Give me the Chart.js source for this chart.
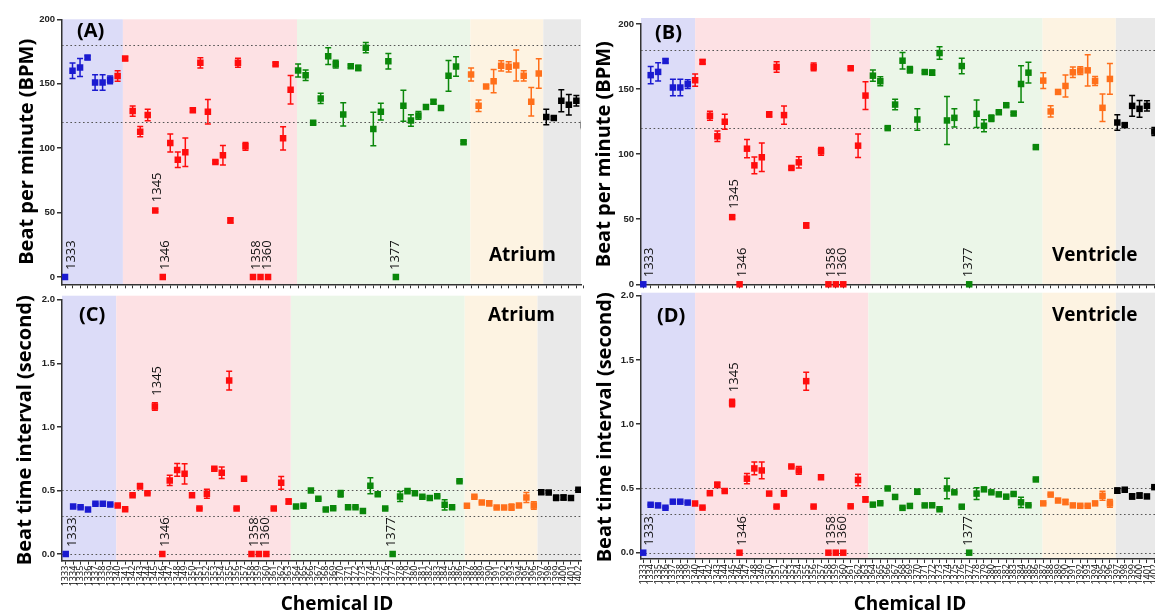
<!DOCTYPE html>
<html>
<head>
<meta charset="utf-8">
<script src="https://cdn.jsdelivr.net/npm/chart.js@4.4.1/dist/chart.umd.min.js"></script>
<style>
html,body{margin:0;padding:0;background:#fff;width:1155px;height:615px;overflow:hidden;position:relative;}
canvas{position:absolute;}
</style>
</head>
<body>
<canvas id="cA"></canvas>
<canvas id="cB"></canvas>
<canvas id="cC"></canvas>
<canvas id="cD"></canvas>
<script>
// ---------------- DATA ----------------
const chemicalIds = [1333,1334,1335,1336,1337,1338,1339,1340,1341,1342,1343,1344,1345,1346,1347,1348,1349,1350,
  1351,1352,1353,1354,1355,1356,1357,1358,1359,1360,1361,1362,1363,1364,1365,1366,1367,1368,1369,1370,
  1371,1372,1373,1374,1375,1376,1377,1378,1379,1380,1381,1382,1383,1384,1385,1386,1387,1388,1389,1390,
  1391,1392,1393,1394,1395,1396,1397,1398,1399,1400,1401,1402];
const groupFirstIds = [1333, 1340, 1364, 1387, 1397];

const atriumBpm = [0,160,162.6,170.3,151,151,153,
  156,169.5,128.8,112.8,125.7,51.6,0,104,91,96.8,129.5,166.2,128.3,89.3,94.5,43.9,166.2,101.4,0,0,0,165.2,107.6,145.3,
  160.3,156.6,119.7,138.6,171.4,165.2,126.2,163.6,162.3,178,114.8,128.3,167.5,0,132.9,121.5,125.4,131.9,136,131.1,156.1,163.4,104.5,
  157.2,132.9,147.9,152,163.9,163.1,164.1,156.1,136,157.9,
  124.1,123.4,136.8,133.7,136.8,118];
const atriumBpmErr = [0,6,7,1.5,6,6,3,
  4,1.5,4,4,4.5,1,0,7,6,11,1.5,4,9.5,1,7.5,2,3.5,3,0,0,0,1,9,11,
  5,4,1,4,6.5,3,9,1,2,4,13,6.5,6,0,12,4.5,3,1.5,1.5,1,12,7.5,1,
  5,4.5,1,9,4,4,12,4,11,11.5,
  6,1,8.5,8,4,3];

const ventricleBpm = [0,160.7,163.2,171.6,151.2,151.2,153.8,
  156.8,170.9,129.5,113.7,124.9,51.6,0,104.2,91.4,97.6,130.5,167,130,89.4,93.7,45.2,167,102.2,0,0,0,166,106.5,145,
  160.3,156,120,138.1,171.8,164.9,126.6,163.1,162.6,177.7,125.9,127.9,167.7,0,131,121.8,127.6,132.2,137.6,131.2,153.9,162.6,105.4,
  156.5,132.8,147.8,152.4,162.9,164.2,164.4,156.2,135.6,157.8,
  124.3,122.3,137.1,134.8,137.1,117.4];
const ventricleBpmErr = [0,6.6,7,1.5,6.4,6.4,3.3,
  4.7,1.5,3.5,4,5.7,1,0,7,6.4,11,2,4,7,1,4.3,2,3,3,0,0,0,1,9,10.6,
  4.3,3.5,1,4,6.3,2.5,8.3,1,2,4.8,18.4,7,6,0,10.6,4.6,2.5,1,1,1,14,8,1,
  6,4.3,1,8.5,4,3,12,3.5,10.6,11.8,
  6,1,8,6.4,4,3];

const atriumInterval = [0,0.374,0.369,0.351,0.395,0.395,0.39,
  0.382,0.353,0.463,0.534,0.479,1.16,0,0.579,0.662,0.631,0.463,0.359,0.474,0.67,0.639,1.364,0.359,0.592,0,0,0,0.359,0.56,0.414,
  0.374,0.38,0.5,0.435,0.351,0.361,0.474,0.369,0.369,0.338,0.537,0.471,0.359,0,0.453,0.495,0.479,0.45,0.44,0.455,0.387,0.369,0.573,
  0.38,0.45,0.406,0.4,0.366,0.366,0.369,0.382,0.445,0.382,
  0.487,0.484,0.442,0.445,0.44,0.505];
const atriumIntervalErr = [0,0.005,0.005,0.005,0.005,0.005,0.005,
  0.005,0.005,0.005,0.02,0.005,0.03,0,0.04,0.05,0.08,0.005,0.005,0.035,0.005,0.045,0.073,0.005,0.01,0,0,0,0.005,0.05,0.02,
  0.005,0.005,0.005,0.005,0.005,0.005,0.025,0.005,0.005,0.005,0.063,0.01,0.005,0,0.04,0.005,0.005,0.005,0.005,0.005,0.04,0.005,0.005,
  0.005,0.005,0.005,0.02,0.005,0.005,0.025,0.005,0.04,0.03,
  0.015,0.005,0.02,0.02,0.005,0.005];

const ventricleInterval = [0,0.373,0.368,0.35,0.397,0.397,0.39,
  0.383,0.351,0.463,0.528,0.48,1.165,0,0.576,0.656,0.64,0.46,0.359,0.462,0.671,0.64,1.335,0.359,0.587,0,0,0,0.361,0.566,0.415,
  0.374,0.385,0.5,0.434,0.349,0.364,0.474,0.368,0.369,0.338,0.5,0.47,0.358,0,0.46,0.493,0.47,0.454,0.436,0.457,0.392,0.369,0.57,
  0.384,0.452,0.406,0.395,0.368,0.365,0.365,0.384,0.443,0.384,
  0.483,0.49,0.438,0.445,0.438,0.51];
const ventricleIntervalErr = [0,0.005,0.005,0.005,0.005,0.005,0.005,
  0.005,0.005,0.005,0.02,0.005,0.03,0,0.04,0.05,0.065,0.005,0.005,0.02,0.005,0.03,0.07,0.005,0.005,0,0,0,0.005,0.045,0.02,
  0.005,0.005,0.005,0.005,0.005,0.005,0.02,0.005,0.005,0.005,0.08,0.005,0.005,0,0.045,0.005,0.005,0.005,0.005,0.005,0.04,0.005,0.005,
  0.005,0.005,0.005,0.02,0.005,0.005,0.005,0.005,0.035,0.03,
  0.02,0.005,0.02,0.02,0.005,0.005];

const bpmTicks = [0, 50, 100, 150, 200];
const intervalTicks = [0, 0.5, 1.0, 1.5, 2.0];
const bpmRefLines = [120, 180];
const intervalRefLines = [0, 0.3, 0.5];
const labelledIds = [1333, 1345, 1346, 1358, 1360, 1377];
const bpmTitle = 'Beat per minute (BPM)';
const intervalTitle = 'Beat time interval (second)';
const xTitle = 'Chemical ID';

// ---------------- STYLE ----------------
const pointColors = ['#1a1ad0', '#ff0d0d', '#0a870a', '#ff6f1a', '#000000'];
const bandColors = ['#dcdcf8', '#fde1e4', '#ebf6e8', '#fdf3e2', '#e9e9e9'];
const labelDx = {1333: 6.5, 1345: 2, 1346: 3, 1358: 3, 1360: -1, 1377: -1};
const FONT = "'Open Sans', 'DejaVu Sans', sans-serif";

function groupOf(id) {
  let g = 0;
  groupFirstIds.forEach((f, i) => { if (id >= f) g = i; });
  return g;
}

const panels = [
  { id: 'cA', left: 0, top: 0, w: 600, h: 292, area: {l: 62, t: 19.3, r: 581, b: 285},
    xMin: 1332.601, xMax: 1401.617, yMin: -5.65, yMax: 200, yTicks: bpmTicks, fmt: v => String(v),
    vals: atriumBpm, errs: atriumBpmErr, refLines: bpmRefLines, bands: [1340.7, 1363.85, 1386.9, 1396.6], bandRaise: 0,
    yTitle: bpmTitle, yTitlePad: 15, xLabels: false, clip: true,
    letter: '(A)', letterPos: [77, 31], chamber: 'Atrium', chamberPos: [489, 256] },
  { id: 'cB', left: 560, top: 0, w: 610, h: 292, area: {l: 81, t: 24, r: 598.8, b: 285},
    xMin: 1332.69, xMax: 1402.6, yMin: 0, yMax: 200, yTicks: bpmTicks, fmt: v => String(v),
    vals: ventricleBpm, errs: ventricleBpmErr, refLines: bpmRefLines, bands: [1340.0, 1363.7, 1386.9, 1396.8], bandRaise: 6,
    yTitle: bpmTitle, yTitlePad: 32, xLabels: false, clip: false,
    letter: '(B)', letterPos: [655, 33], chamber: 'Ventricle', chamberPos: [1052, 256] },
  { id: 'cC', left: 0, top: 292, w: 600, h: 323, area: {l: 62, t: 7, r: 581, b: 268.7},
    xMin: 1332.5, xMax: 1402.35, yMin: -0.052, yMax: 2, yTicks: intervalTicks, fmt: v => v.toFixed(1),
    vals: atriumInterval, errs: atriumIntervalErr, refLines: intervalRefLines, bands: [1339.8, 1363.3, 1386.7, 1396.5], bandRaise: 4,
    yTitle: intervalTitle, yTitlePad: 13, xLabels: true, clip: true, xTitlePos: [337, 605],
    letter: '(C)', letterPos: [79, 315], chamber: 'Atrium', chamberPos: [488, 316] },
  { id: 'cD', left: 560, top: 288, w: 610, h: 327, area: {l: 81, t: 7, r: 598.8, b: 271},
    xMin: 1332.7, xMax: 1402.6, yMin: -0.049, yMax: 2, yTicks: intervalTicks, fmt: v => v.toFixed(1),
    vals: ventricleInterval, errs: ventricleIntervalErr, refLines: intervalRefLines, bands: [1340.0, 1363.4, 1386.9, 1396.8], bandRaise: 3,
    yTitle: intervalTitle, yTitlePad: 33, xLabels: true, clip: false, xTitlePos: [910, 605],
    letter: '(D)', letterPos: [657, 316], chamber: 'Ventricle', chamberPos: [1052, 316] }
];

const decor = {
  id: 'decor',
  beforeDraw(chart, args, o) {
    const {ctx, chartArea: a} = chart;
    const x = chart.scales.x;
    const edges = [x.min, ...o.p.bands, x.max];
    ctx.save();
    for (let i = 0; i < 5; i++) {
      const x0 = Math.max(a.left, x.getPixelForValue(edges[i]));
      const x1 = Math.min(a.right, x.getPixelForValue(edges[i + 1]));
      ctx.fillStyle = bandColors[i];
      ctx.fillRect(x0, a.top - o.p.bandRaise, x1 - x0, a.bottom - a.top + o.p.bandRaise);
    }
    ctx.restore();
  },
  beforeDatasetsDraw(chart, args, o) {
    const {ctx, chartArea: a} = chart;
    const x = chart.scales.x, y = chart.scales.y;
    ctx.save();
    ctx.strokeStyle = '#555';
    ctx.lineWidth = 1.2;
    ctx.setLineDash([1.6, 2.6]);
    o.p.refLines.forEach(v => {
      const py = Math.round(y.getPixelForValue(v)) + 0.5;
      ctx.beginPath(); ctx.moveTo(a.left, py); ctx.lineTo(a.right, py); ctx.stroke();
    });
    ctx.setLineDash([]);
    if (o.p.clip) { ctx.beginPath(); ctx.rect(a.left, a.top - 10, a.right - a.left, a.bottom - a.top + 10); ctx.clip(); }
    chart.data.datasets.forEach(ds => {
      ctx.strokeStyle = ds.backgroundColor;
      ctx.lineWidth = 1.5;
      ds.data.forEach(pt => {
        if (!pt.e) return;
        const px = x.getPixelForValue(pt.x);
        const yt = y.getPixelForValue(pt.y + pt.e), yb = y.getPixelForValue(pt.y - pt.e);
        ctx.beginPath();
        ctx.moveTo(px, yt); ctx.lineTo(px, yb);
        ctx.moveTo(px - 3, yt); ctx.lineTo(px + 3, yt);
        ctx.moveTo(px - 3, yb); ctx.lineTo(px + 3, yb);
        ctx.stroke();
      });
    });
    ctx.restore();
  },
  afterDatasetsDraw(chart, args, o) {
    const {ctx} = chart;
    const x = chart.scales.x, y = chart.scales.y;
    const p = o.p;
    ctx.save();
    ctx.fillStyle = '#111';
    ctx.font = "13px " + FONT;
    ctx.textAlign = 'left';
    ctx.textBaseline = 'middle';
    labelledIds.forEach(id => {
      const i = chemicalIds.indexOf(id);
      const px = x.getPixelForValue(id) + (labelDx[id] || 0);
      const py = y.getPixelForValue(p.vals[i] + p.errs[i]) - 7;
      ctx.save();
      ctx.translate(px, py);
      ctx.rotate(-Math.PI / 2);
      ctx.fillText(String(id), 0, 0);
      ctx.restore();
    });
    ctx.fillStyle = '#000';
    ctx.font = "bold 20px " + FONT;
    ctx.fillText(p.letter, p.letterPos[0] - p.left, p.letterPos[1] - p.top);
    ctx.font = "bold 19px " + FONT;
    ctx.fillText(p.chamber, p.chamberPos[0] - p.left, p.chamberPos[1] - p.top);
    if (p.xTitlePos) {
      ctx.textAlign = 'center';
      ctx.fillText(xTitle, p.xTitlePos[0] - p.left, p.xTitlePos[1] - p.top);
    }
    ctx.restore();
  }
};

panels.forEach(p => {
  const cv = document.getElementById(p.id);
  cv.width = p.w; cv.height = p.h;
  cv.style.left = p.left + 'px'; cv.style.top = p.top + 'px';
  cv.style.width = p.w + 'px'; cv.style.height = p.h + 'px';

  const datasets = groupFirstIds.map((f, g) => ({
    data: chemicalIds.map((id, i) => ({x: id, y: p.vals[i], e: p.errs[i]})).filter(d => groupOf(d.x) === g),
    backgroundColor: pointColors[g],
    borderWidth: 0,
    pointStyle: 'rect',
    pointRadius: 4.6,
    showLine: false,
    clip: p.clip ? {left: 0, top: 8, right: 0, bottom: 8} : false
  }));

  new Chart(cv, {
    type: 'scatter',
    data: {datasets},
    plugins: [decor],
    options: {
      responsive: false,
      animation: false,
      events: [],
      layout: {padding: {left: 0, top: p.area.t, right: p.w - p.area.r, bottom: 0}},
      plugins: {legend: {display: false}, tooltip: {enabled: false}, decor: {p}},
      scales: {
        x: {
          type: 'linear', min: p.xMin, max: p.xMax,
          afterBuildTicks: s => { s.ticks = chemicalIds.map(v => ({value: v})); },
          afterFit: s => { s.height = p.h - p.area.b; },
          border: {display: true, color: '#333', width: 1.5},
          grid: {display: true, drawOnChartArea: false, drawTicks: true, tickLength: 4, color: '#333', lineWidth: 1},
          ticks: {display: p.xLabels, autoSkip: false, minRotation: 90, maxRotation: 90, padding: 1,
                  color: '#000', font: {family: FONT, size: 9}, callback: v => String(v)},
          title: {display: false}
        },
        y: {
          type: 'linear', min: p.yMin, max: p.yMax,
          afterBuildTicks: s => { s.ticks = p.yTicks.map(v => ({value: v})); },
          afterFit: s => { s.width = p.area.l; },
          border: {display: true, color: '#333', width: 1.5},
          grid: {display: true, drawOnChartArea: false, drawTicks: true, tickLength: 5, color: '#333', lineWidth: 1.5},
          ticks: {padding: 2, color: '#222', font: {family: "'Liberation Sans', Arial, sans-serif", size: 9.5, weight: 'bold'},
                  callback: v => p.fmt(v)},
          title: {display: true, text: p.yTitle, color: '#000',
                  font: {family: FONT, size: 20, weight: 'bold', lineHeight: 1.2}, padding: {top: p.yTitlePad, bottom: 0}}
        }
      }
    }
  });
});
</script>
</body>
</html>
